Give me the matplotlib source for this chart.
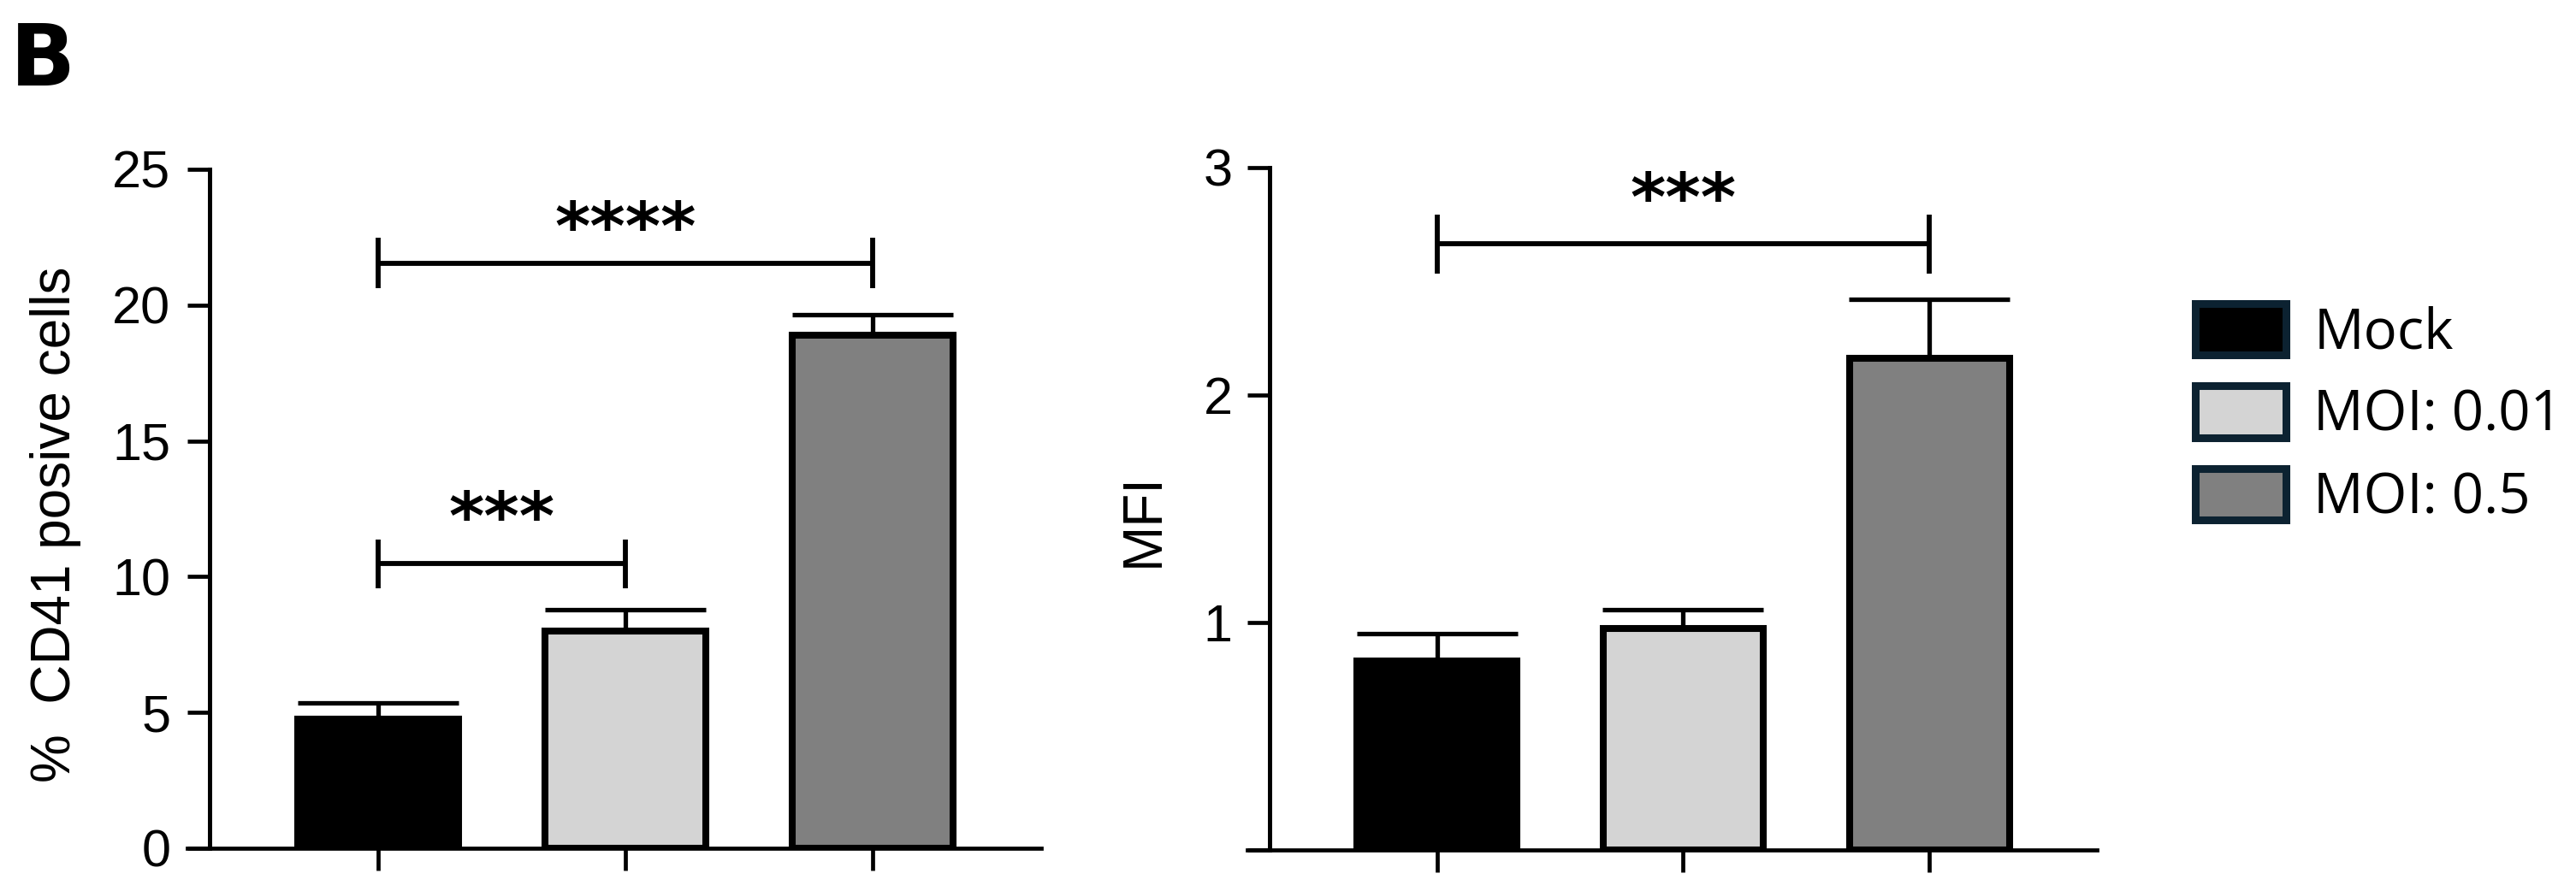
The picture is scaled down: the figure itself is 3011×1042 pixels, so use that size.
import numpy as np
import matplotlib
matplotlib.use('Agg')
import matplotlib.pyplot as plt
from matplotlib.patches import Patch

plt.rcParams['font.family'] = ['Liberation Sans', 'DejaVu Sans']

groups = ['Mock', 'MOI: 0.01', 'MOI: 0.5']
colors = ['#000000', '#d4d4d4', '#808080']

# % CD41 positive cells
cd41_mean = [4.75, 8.0, 18.9]
cd41_sem = [0.6, 0.8, 0.75]
cd41_ticks = [0, 5, 10, 15, 20, 25]

# MFI
mfi_mean = [0.83, 0.975, 2.16]
mfi_sem = [0.12, 0.08, 0.26]
mfi_ticks = [0, 1, 2, 3]
mfi_ticklabels = ['', '1', '2', '3']

# significance brackets: (group a, group b, bar height, tick half length, star height, label)
cd41_sig = [(0, 2, 21.55, 0.93, 22.72, '****'), (0, 1, 10.47, 0.9, 12.05, '***')]
mfi_sig = [(0, 2, 2.665, 0.13, 2.85, '***')]

W, H = 3011, 1042
fig = plt.figure(figsize=(W / 100, H / 100), dpi=100)


def draw_panel(ax, means, sems, ymax, ticks, ticklabels, sigs, pad):
    x = np.arange(len(means))
    ax.errorbar(x, means, yerr=[np.zeros(len(sems)), sems], fmt='none',
                ecolor='black', elinewidth=3.8, capsize=68, capthick=3.8, zorder=1)
    ax.bar(x, means, width=0.65, color=colors, edgecolor='black',
           linewidth=5.8, zorder=2)
    ax.set_xlim(-0.77, 2.68)
    ax.set_ylim(0, ymax)
    ax.set_xticks(x)
    ax.set_xticklabels([])
    ax.set_yticks(ticks)
    ax.set_yticklabels(ticklabels)
    for side in ['top', 'right']:
        ax.spines[side].set_visible(False)
    ax.spines['left'].set_position(('data', -0.68))
    ax.spines['left'].set_linewidth(3.6)
    ax.spines['bottom'].set_linewidth(3.4)
    ax.tick_params(axis='both', direction='out', length=19, width=3.4,
                   labelsize=44)
    ax.tick_params(axis='y', pad=pad)
    for a, b, y, half, ys, label in sigs:
        ax.plot([a, b], [y, y], color='black', lw=4.2, solid_capstyle='butt')
        for xx in (a, b):
            ax.plot([xx, xx], [y - half, y + half], color='black', lw=4.2,
                    solid_capstyle='butt')
        ax.text((a + b) / 2, ys, label, ha='center', va='center',
                fontsize=57, fontweight='bold', family='DejaVu Sans')


ax1 = fig.add_axes([219 / W, 1 - 992 / H, 998 / W, 794 / H])
draw_panel(ax1, cd41_mean, cd41_sem, 25, cd41_ticks,
           [str(t) for t in cd41_ticks], cd41_sig, 14)

ax2 = fig.add_axes([1458 / W, 1 - 994 / H, 993 / W, 798 / H])
draw_panel(ax2, mfi_mean, mfi_sem, 3, mfi_ticks, mfi_ticklabels, mfi_sig, 12)

fig.text(65 / W, 1 - 613 / H, '%  CD41 posive cells', rotation=90,
         ha='center', va='center', fontsize=46)
fig.text(1337 / W, 1 - 608 / H, 'MFI', rotation=90,
         ha='center', va='center', fontsize=46)
fig.text(12 / W, 1 - 100 / H, 'B', ha='left', va='baseline',
         fontsize=72, fontweight='bold', family='DejaVu Sans')

handles = [Patch(facecolor=c, edgecolor='#0c2231', linewidth=6.5) for c in colors]
fig.legend(handles, groups, loc='upper left',
           bbox_to_anchor=(2566 / W, 1 - 355 / H), frameon=False,
           prop={'family': ['Open Sans', 'DejaVu Sans'], 'size': 47},
           handlelength=1.62, handleheight=1.04, handletextpad=0.5,
           labelspacing=0.43, borderaxespad=0, borderpad=0)

fig.savefig('out.png', dpi=100)
